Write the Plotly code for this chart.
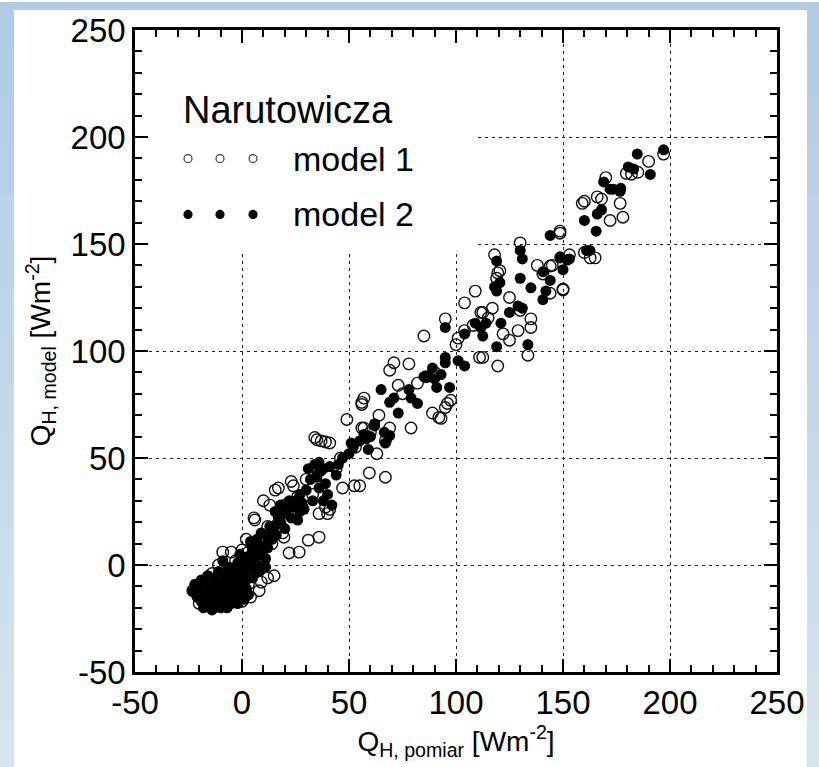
import plotly.graph_objects as go

# ---- data ----
m1_x = [-23, -20, -18, -16, -14, -12, -10, -8, -6, -4, -2, 0, 2, 4, 6, 8, 10, 12, 15, -9, -5, 0, 3, -14, -20, -3, 5, 7, -11, -1, 3, 9, 1, -7,
        5.6, 6, 10, 13, 15.5, 17, 23, 24, 26, 26.5, 19, 19.6, 22, 26.7, 31, 36, 36, 39, 40, 41, 47, 34, 37, 39, 41, 35, 12, 8, 28, 33, 44, 30, 17, 20, 2, 14,
        49, 52.5, 55, 56, 56, 56, 57, 57, 59.5, 63, 67, 67, 69, 69, 71, 73, 78, 79, 82, 85, 89, 92, 93, 95, 96, 97.5, 95, 101, 104, 104, 111, 111.6, 60, 64, 75, 86, 90, 46, 53, 100,
        109, 112.5, 115, 117, 112.5, 119.5, 122, 125, 129, 130, 135, 135, 133.6, 118, 119.5, 120.5, 119, 130, 140.6, 144, 144, 150, 148.6, 153, 160, 162.7, 165, 159, 148.6, 145, 150,
        160, 166, 168, 170, 172, 176.7, 178, 179.6, 182, 185, 190, 197, 125, 108, 138]
m1_y = [-12, -14, -10, -15, -8, -12, -16, -6, -10, -14, -8, -17, -4, -15, -2, -12, 2, -6, -5, 6, 6, 7, 6, -4, -18, 2, 10, 5, 0, -2, -9, -8, 3, -2,
        22, 21, 30, 28, 35, 36, 39, 37, 32, 30, 15, 13, 5.6, 6, 11.6, 13, 24, 27, 24, 26, 36, 59.6, 58, 57.5, 57, 58.5, 18, 12, 27, 33, 45, 40, 24, 28, 12, 10,
        68, 37, 37, 64, 75, 76, 78, 64, 43, 52, 41, 58, 64, 91, 94.5, 84, 94, 64, 85, 107, 71, 69, 68.5, 73.6, 75.5, 77, 115, 106, 109.5, 122.5, 97, 118, 62, 70, 80, 88, 90, 50, 55, 103,
        128, 118, 115.5, 120, 97, 93, 108, 105, 109.5, 119, 115, 111, 98, 145, 136.5, 137.5, 134, 150.5, 136, 139.7, 127, 129, 155, 145, 146, 143.5, 143.5, 169, 156, 140, 128.5,
        170, 172, 171, 181, 161, 169, 162.5, 183, 182.6, 183.5, 188.6, 192, 125, 112, 140]

m2_x = [-23, -22, -21, -20, -19, -18, -17, -16, -15, -14, -13, -12, -12, -11, -10, -10, -9, -8, -8, -7, -6, -6, -5, -4, -4, -3, -2, -2, -1, 0, 0, 1, 2, 2, 3, 4, 5, 6, 7, 8,
        9, 10, 11, 12, 13, -16, -11, -5, 1, -18, -14, -7, 3, 5, 8, 11, -9, 4, 7, -1,
        -21, -19, -17, -15, -13, -11, -9, -7, -5, -3, -1, 1, 3, -6, -14, -18, -10, -2, 5, 9, 6, 0,
        12, 14, 16, 18, 21, 23, 25, 27, 29,
        15.5, 17, 18, 20, 22, 24, 26, 27, 28, 16, 20, 14, 30, 31, 32, 33, 34, 35, 36, 37, 38, 39, 40, 41, 42, 35, 38, 45, 44, 36,
        47, 50, 52, 55, 57, 59, 60, 51, 62, 66.5, 69, 67, 65, 69, 71, 73, 78, 79, 82, 85, 87, 90, 89, 93, 91, 97, 95, 95, 101, 104, 62, 58,
        95, 104, 109, 111.6, 114, 112.5, 121, 125, 119, 129, 131, 133.6, 118, 119, 120.5, 119, 130, 131, 130, 135, 140.6, 144, 142, 140.6, 144, 148.6, 150, 153, 160,
        165.5, 166, 161, 162.6, 168, 169, 172, 173.5, 177, 176.7, 180.5, 183, 184.7, 190.8, 197, 152, 148.6]
m2_y = [-12, -9, -15, -11, -17, -8, -13, -19, -10, -15, -6, -18, -11, -14, -8, -20, -12, -16, -4, -10, -14, -1, -7, -11, -3, -16, -6, 1, -10, -3, -13, 2, -7, -11, 4, -2, 8, 1, 12, 5,
        15, 9, 3, 13, 18, -5, -3, -18, -16, -20, -21, -20, -14, -6, -3, -1, 2, 11, 0, 5,
        -13, -7, -17, -13, -20, -9, -18, -6, -13, -9, -14, -6, -1, -4, -11, -14, -15, -18, 3, 6, 10, 0,
        8, 12, 14, 20, 26, 22, 30, 33, 26,
        25, 22, 28, 24, 30, 27, 21, 25, 29, 19, 17, 16, 35, 45, 40, 30, 47, 42, 36, 44, 30, 38, 33, 46, 28, 41, 45, 47, 42, 48,
        50, 52, 55, 58, 61, 54, 60, 57, 65, 62, 60.5, 57, 82, 76, 78, 71, 82, 78, 75.5, 88, 88, 87, 92, 89, 83, 83, 97, 94.5, 95.5, 93, 66, 59,
        111, 108, 113, 111, 113, 107, 113, 118, 102, 121, 120, 103, 130, 128, 132, 142, 147, 143, 134, 129.5, 137, 133, 128, 124, 154, 143.5, 138, 143, 161,
        156, 164, 147, 147, 166, 179, 175.6, 175.6, 176, 174.6, 186, 185, 192, 182.5, 194, 142.5, 144]

tick_vals = [-50, 0, 50, 100, 150, 200, 250]
tick_text = ["-50", "0", "50", "100", "150", "200", "250"]
legend_title = "Narutowicza"
series_names = ["model 1", "model 2"]

FONT = "Arial, Liberation Sans, sans-serif"
W, H = 819, 767
ML, MR, MT, MB = 135, 42, 28, 95
PW, PH = W - ML - MR, H - MT - MB


def px(x):
    return (x - ML) / PW


def py(y):
    return (H - MB - y) / PH


fig = go.Figure()
fig.add_trace(go.Scatter(x=m1_x, y=m1_y, mode="markers", name=series_names[0], showlegend=False,
                         marker=dict(symbol="circle-open", size=11.5, color="#111", line=dict(width=1.4))))
fig.add_trace(go.Scatter(x=m2_x, y=m2_y, mode="markers", name=series_names[1], showlegend=False,
                         marker=dict(symbol="circle", size=11, color="#000", line=dict(width=0))))

shapes = []
# blue gradient frame
top_c = (178, 204, 230)
bot_c = (212, 228, 238)
n = 16
for i in range(n):
    t = i / (n - 1)
    c = tuple(int(top_c[k] + (bot_c[k] - top_c[k]) * t) for k in range(3))
    y0 = i * H / n
    y1 = (i + 1) * H / n + 1
    shapes.append(dict(type="rect", xref="paper", yref="paper", layer="below",
                       x0=px(0), x1=px(W), y0=py(y1), y1=py(y0),
                       fillcolor="rgb(%d,%d,%d)" % c, line=dict(width=0)))
shapes.append(dict(type="rect", xref="paper", yref="paper", layer="below",
                   x0=px(14), x1=px(807), y0=py(H + 2), y1=py(8),
                   fillcolor="white", line=dict(width=0)))
# legend background covering gridlines (inside the ticks)
shapes.append(dict(type="rect", xref="paper", yref="paper", layer="above",
                   x0=px(ML + 14), x1=px(478), y0=py(252), y1=py(MT + 14),
                   fillcolor="white", line=dict(width=0)))
# legend markers
for row, (yy, filled) in enumerate([(157, False), (213, True)]):
    for xx in (188, 220, 253):
        shapes.append(dict(type="circle", xref="paper", yref="paper", layer="above",
                           xsizemode="pixel", ysizemode="pixel", xanchor=px(xx), yanchor=py(yy),
                           x0=-4, x1=4, y0=-4, y1=4,
                           fillcolor="black" if filled else "white",
                           line=dict(color="#444" if not filled else "black", width=1.2)))

annotations = [
    dict(text=legend_title, xref="paper", yref="paper", x=px(181), y=py(108), xanchor="left", yanchor="middle",
         showarrow=False, font=dict(family=FONT, size=38, color="black")),
    dict(text=series_names[0], xref="paper", yref="paper", x=px(291), y=py(157), xanchor="left", yanchor="middle",
         showarrow=False, font=dict(family=FONT, size=34, color="black")),
    dict(text=series_names[1], xref="paper", yref="paper", x=px(291), y=py(213), xanchor="left", yanchor="middle",
         showarrow=False, font=dict(family=FONT, size=34, color="black")),
]

axis_common = dict(
    range=[-50, 250], tickvals=tick_vals, ticktext=tick_text,
    showline=True, linewidth=2.5, linecolor="black", mirror="ticks",
    ticks="inside", ticklen=13, tickwidth=2, tickcolor="black",
    minor=dict(dtick=10, ticks="inside", ticklen=7, tickwidth=1.5, tickcolor="black", showgrid=False),
    showgrid=True, gridcolor="#222", gridwidth=1, griddash="3px,4px",
    zeroline=False, tickfont=dict(family=FONT, size=33, color="black"),
)

fig.update_layout(
    width=W, height=H, margin=dict(l=ML, r=MR, t=MT, b=MB),
    paper_bgcolor="white", plot_bgcolor="white",
    xaxis=dict(**axis_common,
               title=dict(text="Q<sub>H, pomiar</sub> [Wm<sup>-2</sup>]", standoff=6,
                          font=dict(family=FONT, size=28, color="black"))),
    yaxis=dict(**axis_common,
               title=dict(text="Q<sub>H, model</sub> [Wm<sup>-2</sup>]", standoff=12,
                          font=dict(family=FONT, size=28, color="black"))),
    shapes=shapes, annotations=annotations, showlegend=False,
)

fig.write_html("out.html")
